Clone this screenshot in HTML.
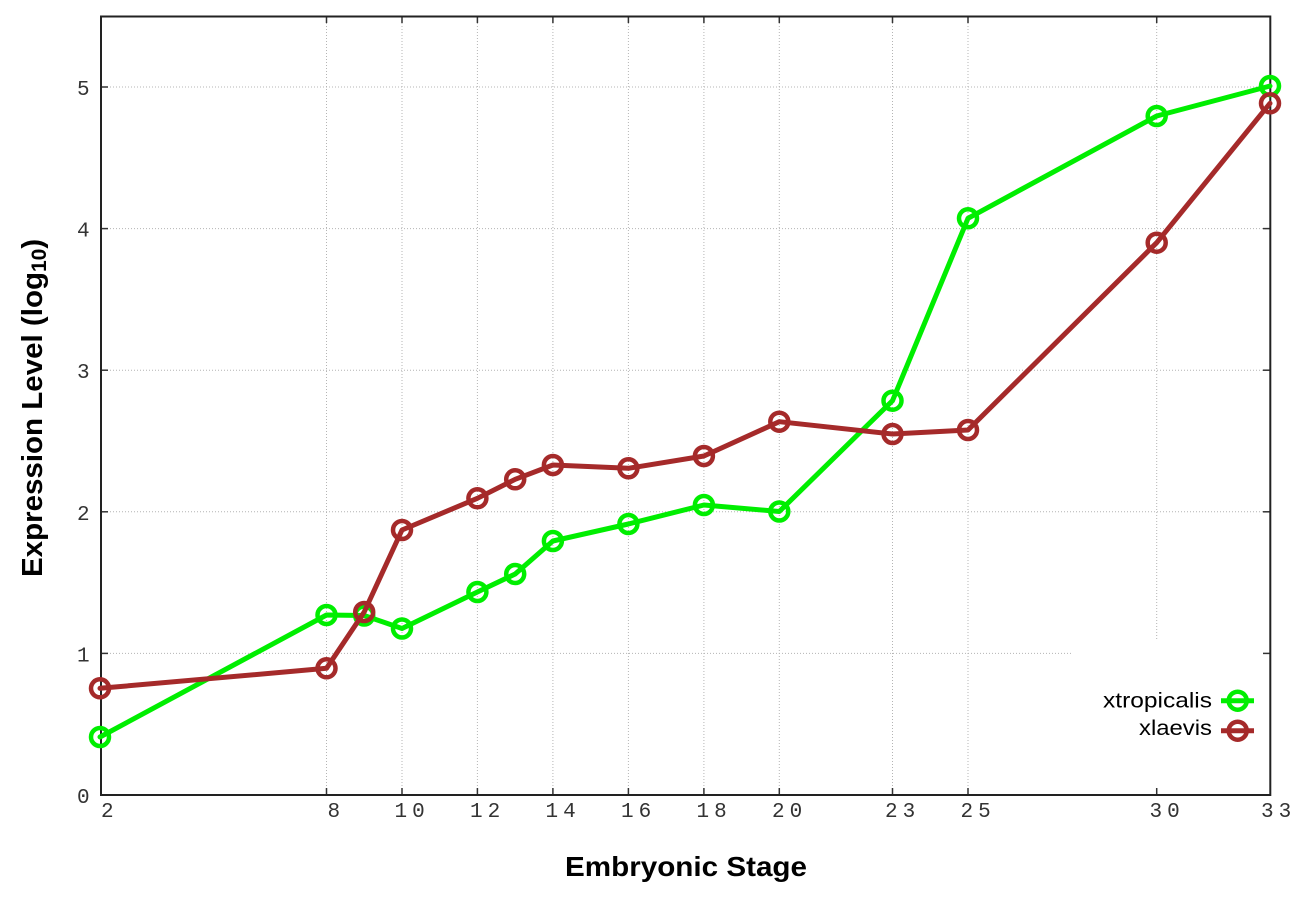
<!DOCTYPE html>
<html>
<head>
<meta charset="utf-8">
<style>
  html, body { margin: 0; padding: 0; background: #ffffff; }
  svg { display: block; }
</style>
</head>
<body>
<svg width="1296" height="907" viewBox="0 0 1296 907" xmlns="http://www.w3.org/2000/svg">
  <rect x="0" y="0" width="1296" height="907" fill="#ffffff"/>

  <!-- grid -->
  <g stroke="#b4b4b4" stroke-width="1" stroke-dasharray="1,2" fill="none">
    <line x1="101" y1="653.4" x2="1270" y2="653.4"/>
    <line x1="101" y1="511.8" x2="1270" y2="511.8"/>
    <line x1="101" y1="370.2" x2="1270" y2="370.2"/>
    <line x1="101" y1="228.6" x2="1270" y2="228.6"/>
    <line x1="101" y1="87" x2="1270" y2="87"/>
    <line x1="326.5" y1="17" x2="326.5" y2="795"/>
    <line x1="402" y1="17" x2="402" y2="795"/>
    <line x1="477.4" y1="17" x2="477.4" y2="795"/>
    <line x1="552.9" y1="17" x2="552.9" y2="795"/>
    <line x1="628.4" y1="17" x2="628.4" y2="795"/>
    <line x1="703.9" y1="17" x2="703.9" y2="795"/>
    <line x1="779.3" y1="17" x2="779.3" y2="795"/>
    <line x1="892.5" y1="17" x2="892.5" y2="795"/>
    <line x1="968" y1="17" x2="968" y2="795"/>
    <line x1="1156.7" y1="17" x2="1156.7" y2="795"/>
  </g>

  <!-- legend background box -->
  <rect x="1071" y="641" width="199" height="153" fill="#ffffff"/>

  <!-- ticks -->
  <g stroke="#333" stroke-width="1.5">
    <line x1="101" y1="653.4" x2="108" y2="653.4"/><line x1="1263" y1="653.4" x2="1270" y2="653.4"/>
    <line x1="101" y1="511.8" x2="108" y2="511.8"/><line x1="1263" y1="511.8" x2="1270" y2="511.8"/>
    <line x1="101" y1="370.2" x2="108" y2="370.2"/><line x1="1263" y1="370.2" x2="1270" y2="370.2"/>
    <line x1="101" y1="228.6" x2="108" y2="228.6"/><line x1="1263" y1="228.6" x2="1270" y2="228.6"/>
    <line x1="101" y1="87" x2="108" y2="87"/><line x1="1263" y1="87" x2="1270" y2="87"/>
    <line x1="326.5" y1="795" x2="326.5" y2="788"/><line x1="326.5" y1="16" x2="326.5" y2="23"/>
    <line x1="402" y1="795" x2="402" y2="788"/><line x1="402" y1="16" x2="402" y2="23"/>
    <line x1="477.4" y1="795" x2="477.4" y2="788"/><line x1="477.4" y1="16" x2="477.4" y2="23"/>
    <line x1="552.9" y1="795" x2="552.9" y2="788"/><line x1="552.9" y1="16" x2="552.9" y2="23"/>
    <line x1="628.4" y1="795" x2="628.4" y2="788"/><line x1="628.4" y1="16" x2="628.4" y2="23"/>
    <line x1="703.9" y1="795" x2="703.9" y2="788"/><line x1="703.9" y1="16" x2="703.9" y2="23"/>
    <line x1="779.3" y1="795" x2="779.3" y2="788"/><line x1="779.3" y1="16" x2="779.3" y2="23"/>
    <line x1="892.5" y1="795" x2="892.5" y2="788"/><line x1="892.5" y1="16" x2="892.5" y2="23"/>
    <line x1="968" y1="795" x2="968" y2="788"/><line x1="968" y1="16" x2="968" y2="23"/>
    <line x1="1156.7" y1="795" x2="1156.7" y2="788"/><line x1="1156.7" y1="16" x2="1156.7" y2="23"/>
  </g>

  <!-- border -->
  <rect x="101" y="16.5" width="1169.3" height="778.5" fill="none" stroke="#222" stroke-width="2"/>

  <!-- y tick labels -->
  <g font-family="'Liberation Mono', monospace" font-size="21" fill="#333">
    <text x="77" y="803">0</text>
    <text x="77" y="661.4">1</text>
    <text x="77" y="519.8">2</text>
    <text x="77" y="378.2">3</text>
    <text x="77" y="236.6">4</text>
    <text x="77" y="95">5</text>
  </g>

  <!-- x tick labels -->
  <g font-family="'Liberation Mono', monospace" font-size="21" fill="#333" letter-spacing="5">
    <text x="101" y="817">2</text>
    <text x="327.5" y="817">8</text>
    <text x="394.5" y="817">10</text>
    <text x="470" y="817">12</text>
    <text x="545.5" y="817">14</text>
    <text x="621" y="817">16</text>
    <text x="696.5" y="817">18</text>
    <text x="772" y="817">20</text>
    <text x="885" y="817">23</text>
    <text x="960.5" y="817">25</text>
    <text x="1149.5" y="817">30</text>
    <text x="1261" y="817">33</text>
  </g>

  <!-- axis labels -->
  <text x="686" y="876" text-anchor="middle" font-family="'Liberation Sans', sans-serif" font-weight="bold" font-size="28" textLength="242" lengthAdjust="spacingAndGlyphs" fill="#000">Embryonic Stage</text>
  <text transform="translate(42,577) rotate(-90)" font-family="'Liberation Sans', sans-serif" font-weight="bold" font-size="29" fill="#000"><tspan textLength="305" lengthAdjust="spacingAndGlyphs">Expression Level (log</tspan><tspan font-size="21" dy="4">10</tspan><tspan dy="-4">)</tspan></text>

  <!-- series: xtropicalis -->
  <g fill="none" stroke="#00ee00" stroke-linejoin="round" stroke-linecap="round">
    <polyline stroke-width="5" points="100,737 326.5,615 364.2,615.5 402,628.5 477.4,592 515.2,574 552.9,541 628.4,524 703.9,505 779.3,511.5 892.5,400.7 968,218.3 1156.7,116 1270,86"/>
    <g stroke-width="4.5">
      <circle cx="100" cy="737" r="9"/>
      <circle cx="326.5" cy="615" r="9"/>
      <circle cx="364.2" cy="615.5" r="9"/>
      <circle cx="402" cy="628.5" r="9"/>
      <circle cx="477.4" cy="592" r="9"/>
      <circle cx="515.2" cy="574" r="9"/>
      <circle cx="552.9" cy="541" r="9"/>
      <circle cx="628.4" cy="524" r="9"/>
      <circle cx="703.9" cy="505" r="9"/>
      <circle cx="779.3" cy="511.5" r="9"/>
      <circle cx="892.5" cy="400.7" r="9"/>
      <circle cx="968" cy="218.3" r="9"/>
      <circle cx="1156.7" cy="116" r="9"/>
      <circle cx="1270" cy="86" r="9"/>
    </g>
  </g>

  <!-- series: xlaevis -->
  <g fill="none" stroke="#a52a2a" stroke-linejoin="round" stroke-linecap="round">
    <polyline stroke-width="5" points="100,688.3 326.5,668.3 364.2,612 402,530 477.4,498.3 515.2,479.3 552.9,465 628.4,468.3 703.9,456 779.3,421.7 892.5,434 968,430 1156.7,242.7 1270,103.3"/>
    <g stroke-width="4.5">
      <circle cx="100" cy="688.3" r="9"/>
      <circle cx="326.5" cy="668.3" r="9"/>
      <circle cx="364.2" cy="612" r="9"/>
      <circle cx="402" cy="530" r="9"/>
      <circle cx="477.4" cy="498.3" r="9"/>
      <circle cx="515.2" cy="479.3" r="9"/>
      <circle cx="552.9" cy="465" r="9"/>
      <circle cx="628.4" cy="468.3" r="9"/>
      <circle cx="703.9" cy="456" r="9"/>
      <circle cx="779.3" cy="421.7" r="9"/>
      <circle cx="892.5" cy="434" r="9"/>
      <circle cx="968" cy="430" r="9"/>
      <circle cx="1156.7" cy="242.7" r="9"/>
      <circle cx="1270" cy="103.3" r="9"/>
    </g>
  </g>

  <!-- legend -->
  <g font-family="'Liberation Sans', sans-serif" font-size="21" fill="#000" text-anchor="end">
    <text x="1212" y="707.3" textLength="109" lengthAdjust="spacingAndGlyphs">xtropicalis</text>
    <text x="1212" y="735" textLength="73" lengthAdjust="spacingAndGlyphs">xlaevis</text>
  </g>
  <g fill="none">
    <line x1="1221" y1="700.7" x2="1254" y2="700.7" stroke="#00ee00" stroke-width="5"/>
    <circle cx="1237.7" cy="700.7" r="9" stroke="#00ee00" stroke-width="4.5"/>
    <line x1="1221" y1="730.7" x2="1254" y2="730.7" stroke="#a52a2a" stroke-width="5"/>
    <circle cx="1237.7" cy="730.7" r="9" stroke="#a52a2a" stroke-width="4.5"/>
  </g>
</svg>
</body>
</html>
